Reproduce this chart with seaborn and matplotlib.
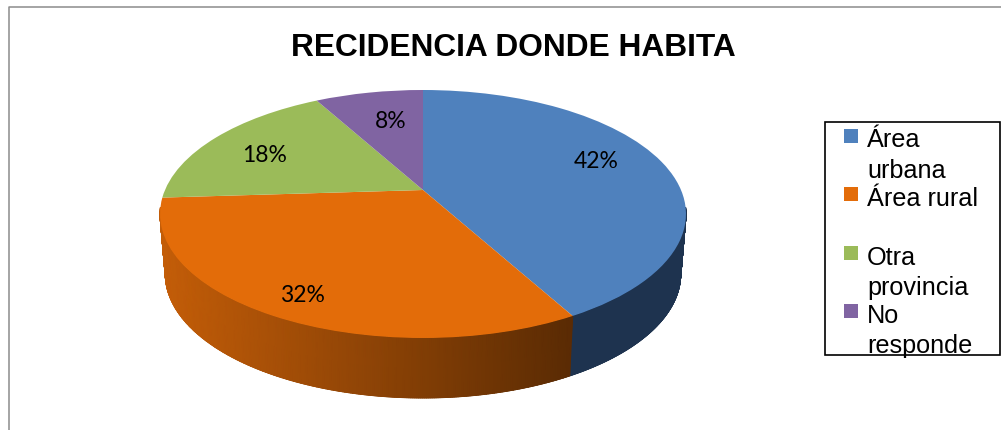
import numpy as np
import matplotlib
matplotlib.use("Agg")
import matplotlib.pyplot as plt
from matplotlib.colors import LinearSegmentedColormap
from matplotlib.patches import Rectangle
from matplotlib.transforms import Transform
import seaborn as sns

title = "RECIDENCIA DONDE HABITA"
categories = ["Área urbana", "Área rural", "Otra provincia", "No responde"]
values = [42, 32, 18, 8]
legend_lines = [["Área", "urbana"], ["Área rural"], ["Otra", "provincia"], ["No", "responde"]]
colors = ["#4F81BD", "#E36C09", "#9BBB59", "#8064A2"]

sns.set_theme(style="white")
plt.rcParams["font.family"] = ["Liberation Sans", "DejaVu Sans"]
palette = sns.color_palette(colors)

W, H = 1001, 430
fig = plt.figure(figsize=(W / 100, H / 100), dpi=100)
ax = fig.add_axes([0, 0, 1, 1])

# Perspective of the pie plane: unit disc -> picture pixels
CX, CY, RX, RY, PERSP = 423.0, 190.0, 258.0, 119.35, 0.1935
DEPTH, BOTTOM_SHRINK = 60.0, 0.98


def project(u, v, drop=0.0, shrink=1.0):
    w = 1 + PERSP * v
    return CX + shrink * RX * u / w, CY + drop - RY * v / w


class PieProjection(Transform):
    input_dims = output_dims = 2
    is_affine = False
    has_inverse = False

    def transform_non_affine(self, xy):
        xy = np.asarray(xy, dtype=float)
        x, y = project(xy[:, 0], xy[:, 1])
        return np.column_stack([x, y])


wedges, _ = ax.pie(values, colors=palette, startangle=90, counterclock=False, radius=1.0)
proj = PieProjection()
for wedge in wedges:
    wedge.set_transform(proj + ax.transData)
    wedge.set_linewidth(0)
    wedge.set_zorder(3)
    wedge.set_clip_on(False)

# Side wall, derived from the slice angles (only the two front slices show one)
cum = np.cumsum([0] + values) / sum(values) * 360.0


def wall_edges(a_start, a_end, n):
    ts = np.radians(np.linspace(a_start, a_end, n))
    xt, yt = project(np.cos(ts), np.sin(ts))
    xb, yb = project(np.cos(ts), np.sin(ts), DEPTH, BOTTOM_SHRINK)
    return xt, yt, xb, yb


def wall_quads(xt, yt, xb, yb, color_of):
    for k in range(len(xt) - 1):
        ax.fill([xt[k], xt[k + 1], xb[k + 1], xb[k]],
                [yt[k], yt[k + 1], yb[k + 1], yb[k]],
                color=color_of((xt[k] + xt[k + 1]) / 2), lw=0.5, zorder=1.5)


# blue slice: flat dark wall, from its end angle round to just past the right-hand edge
blue_wall = (0.118, 0.200, 0.310)
blue_cmap = LinearSegmentedColormap.from_list("bluewall", [blue_wall, blue_wall])
xt, yt, xb, yb = wall_edges(90 - cum[1], -8, 240)
wall_quads(xt[::4], yt[::4], xb[::4], yb[::4], lambda x: blue_wall)
X, Y = np.vstack([xt, xb]), np.vstack([yt, yb])
ax.pcolormesh(X, Y, np.zeros_like(X), cmap=blue_cmap, vmin=0, vmax=1,
              shading="gouraud", zorder=2)

# orange slice: shaded from lighter on the left to very dark on the right
orange = np.array(palette[1])
wall_cmap = LinearSegmentedColormap.from_list("wall", [orange * 0.86, orange * 0.40])
xt, yt, xb, yb = wall_edges(90 - cum[1], -172, 300)
shade = lambda x: np.clip((x - 165) / 405, 0, 1)
wall_quads(xt[::4], yt[::4], xb[::4], yb[::4], lambda x: wall_cmap(float(shade(x))))
X, Y = np.vstack([xt, xb]), np.vstack([yt, yb])
ax.pcolormesh(X, Y, shade(X), cmap=wall_cmap, vmin=0, vmax=1,
              shading="gouraud", zorder=2)

ax.set_aspect("auto")
ax.set_xlim(0, W)
ax.set_ylim(H, 0)
ax.axis("off")

# Percent labels
label_pos = [(596, 162), (302, 296), (265, 155), (391, 121)]
for v, (x, y) in zip(values, label_pos):
    ax.text(x, y, f"{v}%", ha="center", va="center", fontsize=16.5,
            family=["Lato", "DejaVu Sans"], color="black", zorder=5)

# Title
ax.text(513.5, 56.5, title, ha="center", va="baseline", fontsize=22.8,
        fontweight="bold", color="black", zorder=5)

# Outer chart frame (left and top only visible)
ax.plot([8.5, 8.5, W], [H, 6.5, 6.5], color="#8c8c8c", lw=1.1, zorder=1, clip_on=False)

# Legend
ax.add_patch(Rectangle((825, 122), 175, 233, fc="white", ec="black", lw=1.2, zorder=4))
square_tops = [129, 187, 246, 304]
baselines = [[147, 178], [206], [265, 295], [323, 353]]
for col, top, lines, ys in zip(palette, square_tops, legend_lines, baselines):
    ax.add_patch(Rectangle((844, top), 14, 14, fc=col, ec="none", zorder=5))
    for s, y in zip(lines, ys):
        ax.text(867, y, s, ha="left", va="baseline", fontsize=18.2, color="black", zorder=6)

fig.savefig("out.png", dpi=100, facecolor="white")
